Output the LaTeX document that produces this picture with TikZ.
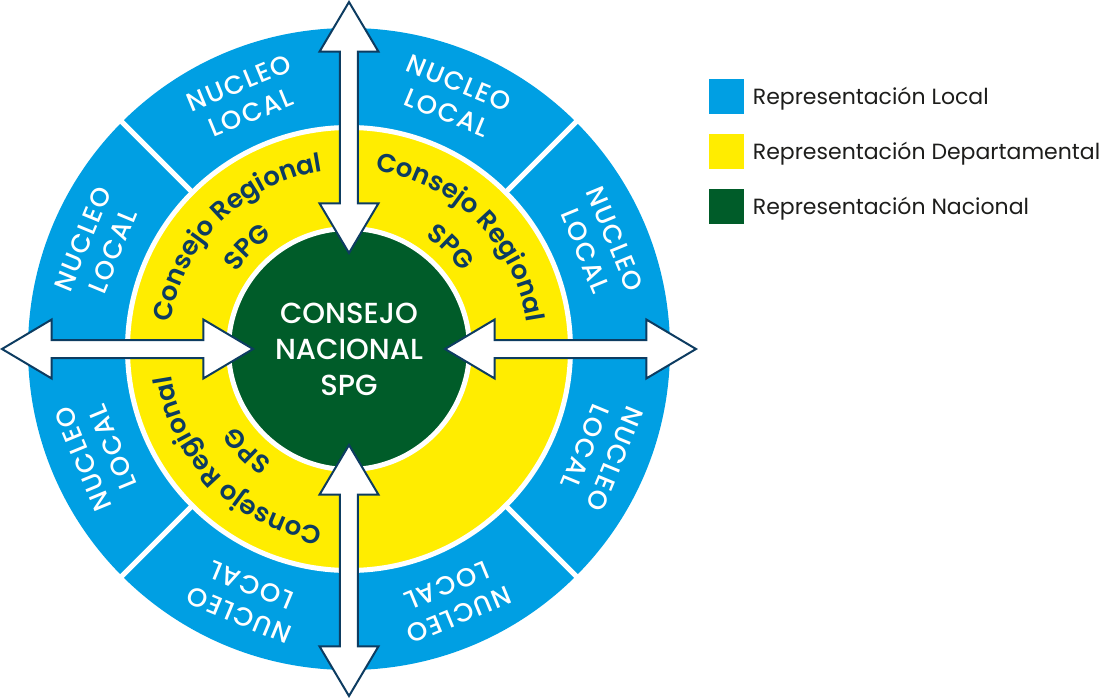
\documentclass[tikz,border=0pt]{standalone}
\usepackage{fontspec}
\setmainfont{Poppins}
\newfontfamily\medio{Poppins Medium}
\newfontfamily\semi{Poppins SemiBold}
\newfontfamily\nucleofont{Poppins Medium}[LetterSpace=6]
\usetikzlibrary{positioning,shapes.arrows,decorations.text}
\definecolor{azul}{HTML}{009FE3}
\definecolor{amarillo}{HTML}{FFED00}
\definecolor{verde}{HTML}{005C29}
\definecolor{marino}{HTML}{0D3C61}
\definecolor{tinta}{HTML}{1D1D1B}
\newcommand\regional{\semi\fontsize{26}{26}\selectfont\color{marino}}

\begin{document}
\begin{tikzpicture}[x=1pt, y=1pt]
  \tikzstyle{flecha} = [double arrow, draw=marino, fill=white, line width=2pt, inner sep=0pt, inner ysep=8pt, minimum height=251pt, double arrow head extend=20.5pt, double arrow tip angle=61.4, double arrow head indent=0pt]
  \tikzstyle{nucleo} = [text=white, align=center, font=\nucleofont\fontsize{26}{32}\selectfont]
  \tikzstyle{cuadro} = [minimum size=35pt, inner sep=0pt]
  \tikzstyle{leyenda} = [text=tinta, inner sep=0pt, text height=16pt, text depth=0pt, font=\fontsize{22}{22}\selectfont]

  \useasboundingbox (-349,-348) rectangle (752,349);

  \fill[azul] (0,0) circle (321);
  \foreach \a in {45,135,225,315}
    \draw[white, line width=5pt] (\a:220) -- (\a:330);
  \filldraw[fill=amarillo, draw=white, line width=5pt] (0,0) circle (221.5);
  \filldraw[fill=verde, draw=white, line width=5pt] (0,0) circle (120.5);

  \foreach \a [count=\i] in {22.5,67.5,...,337.5}
    \node[nucleo, rotate=\a-90] (local\i) at (\a:272) {NUCLEO\\LOCAL};

  \foreach \c in {135,45,225} {
    \path[decorate, decoration={text along path, text align=center, text={|\regional|Consejo Regional}}]
      (\c+50:180) arc[start angle=\c+50, end angle=\c-50, radius=180];
    \path[decorate, decoration={text along path, text align=center, text={|\regional|SPG}}]
      (\c+50:136) arc[start angle=\c+50, end angle=\c-50, radius=136];
  }

  \node[text=white, align=center, font=\medio\fontsize{29}{36}\selectfont] (nacional) at (0,0) {CONSEJO\\NACIONAL\\SPG};

  \node[flecha, rotate=90] (norte) at (0,221.5) {};
  \node[flecha, rotate=90] (sur) at (0,-221.5) {};
  \node[flecha] (oeste) at (-221.5,0) {};
  \node[flecha] (este) at (221.5,0) {};

  \node[cuadro, fill=azul] (cLocal) at (377,252.5) {};
  \node[cuadro, fill=amarillo, below=20pt of cLocal] (cDep) {};
  \node[cuadro, fill=verde, below=19pt of cDep] (cNac) {};
  \node[leyenda, right=9pt of cLocal] (tLocal) {Representación Local};
  \node[leyenda, right=9pt of cDep] (tDep) {Representación Departamental};
  \node[leyenda, right=9pt of cNac] (tNac) {Representación Nacional};
\end{tikzpicture}
\end{document}
